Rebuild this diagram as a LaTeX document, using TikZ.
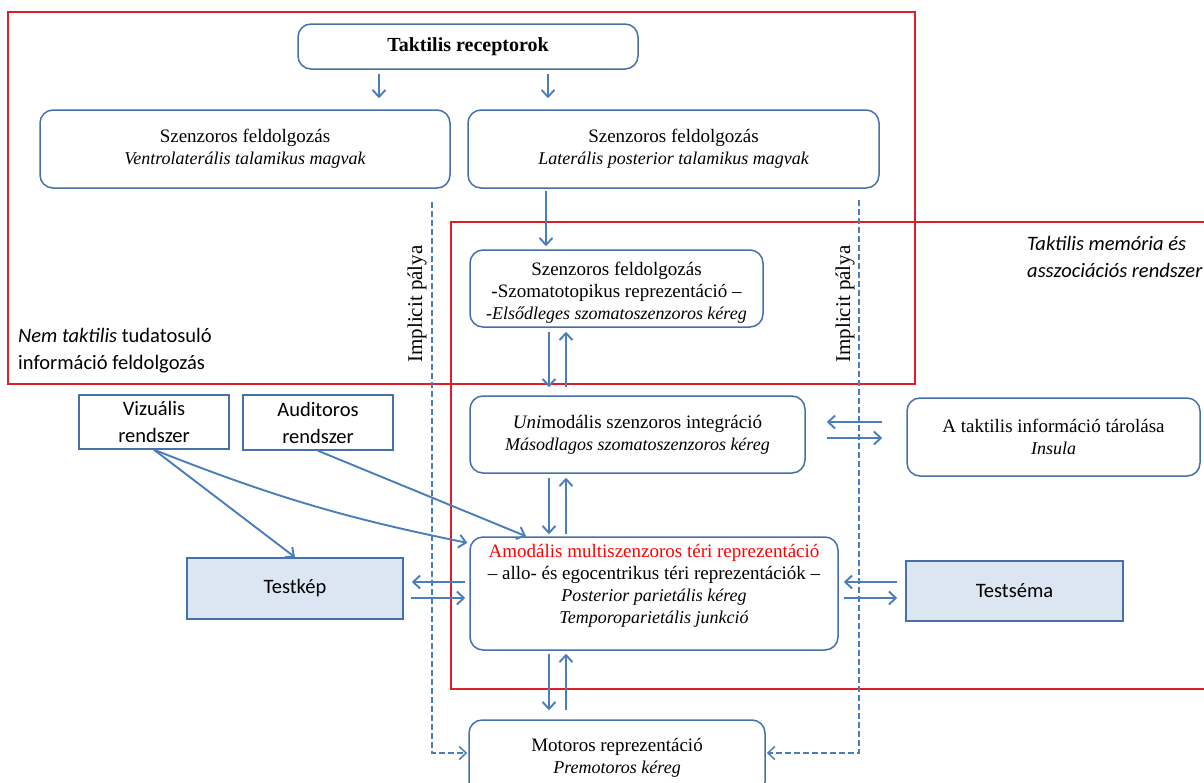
\documentclass[tikz,border=0pt]{standalone}
\usepackage{fontspec}
\setmainfont{Liberation Serif}
\newfontfamily\calib{Carlito}
\usetikzlibrary{arrows.meta,calc}
\definecolor{bbord}{RGB}{70,112,170}
\definecolor{barr}{RGB}{74,126,187}
\definecolor{fillb}{RGB}{220,230,242}
\definecolor{fred}{RGB}{222,30,40}
\newcommand\itl[1]{{\fontsize{18}{22}\selectfont\itshape #1}}
\begin{document}
\begin{tikzpicture}[x=1pt,y=-1pt,
 rbox/.style={draw=bbord, line width=1.5pt, rounded corners=13pt, align=center, inner sep=0pt, font=\fontsize{19}{22}\selectfont},
 sbox/.style={draw=bbord, line width=1.5pt, align=center, inner sep=0pt, font=\calib\fontsize{20.5}{27}\selectfont},
 arr/.style={draw=barr, line width=1.9pt, -{Straight Barb[length=7pt,width=13pt]}},
 dsh/.style={draw=barr, line width=1.5pt, dash pattern=on 6pt off 3pt, -{Straight Barb[length=7pt,width=13pt]}},
 frame/.style={draw=fred, line width=1.3pt}]
\useasboundingbox (0,0) rectangle (1204,782);

% frames
\draw[frame] (8,12) rectangle (915,384);
\draw[frame] (1210,222) -- (451,222) -- (451,689) -- (1210,689);

% boxes
\node[rbox, minimum width=340pt, minimum height=45pt, font=\bfseries\fontsize{20}{22}\selectfont] (rec) at (468,46.5) {Taktilis receptorok};
\node[rbox, minimum width=410pt, minimum height=78pt] (vl) at (245,149) {Szenzoros feldolgozás\\\itl{Ventrolaterális talamikus magvak}};
\node[rbox, minimum width=411pt, minimum height=78pt] (lp) at (673.5,149) {Szenzoros feldolgozás\\\itl{Laterális posterior talamikus magvak}};
\node[rbox, minimum width=293pt, minimum height=77pt] (s1) at (616.5,288.5) {\rule{0pt}{22pt}Szenzoros feldolgozás\\-Szomatotopikus reprezentáció –\\\itl{-Elsődleges szomatoszenzoros kéreg}};
\node[rbox, minimum width=335pt, minimum height=77pt] (uni) at (637.5,434.5) {\textit{Uni}modális szenzoros integráció\\\itl{Másodlagos szomatoszenzoros kéreg}};
\node[rbox, minimum width=368pt, minimum height=113pt] (amo) at (654,593.5) {\textcolor{red}{Amodális multiszenzoros téri reprezentáció}\\– allo- és egocentrikus téri reprezentációk –\\\itl{Posterior parietális kéreg}\\\itl{Temporoparietális junkció}\\[-3pt]\mbox{}};
\node[rbox, minimum width=296pt, minimum height=75pt] (mot) at (617,757.5) {Motoros reprezentáció\\\itl{Premotoros kéreg}};
\node[rbox, minimum width=293pt, minimum height=78pt] (ins) at (1053.5,437) {A taktilis információ tárolása\\\itl{Insula}};
\node[sbox, fill=fillb, minimum width=217pt, minimum height=60pt] (tsema) at (1014.5,591) {Testséma};
\node[sbox, fill=fillb, minimum width=216pt, minimum height=61pt] (tkep) at (295,588.5) {Testkép};
\node[sbox, minimum width=150pt, minimum height=54pt] (viz) at (154,422) {Vizuális\\rendszer};
\node[sbox, minimum width=150pt, minimum height=55pt] (aud) at (318,422.5) {Auditoros\\rendszer};

% free labels
\node[anchor=west, align=left, inner sep=0pt, font=\calib\fontsize{20.5}{27}\selectfont] (nt) at (18,351) {\textit{Nem taktilis} tudatosuló\\információ feldolgozás};
\node[anchor=west, align=left, inner sep=0pt, font=\calib\itshape\fontsize{20.5}{27}\selectfont] (tm) at (1027,256.5) {Taktilis memória és\\asszociációs rendszer};
\node[rotate=90, inner sep=0pt, font=\fontsize{21}{22}\selectfont] (imp1) at (417,304) {Implicit pálya};
\node[rotate=90, inner sep=0pt, font=\fontsize{21}{22}\selectfont] (imp2) at (845,304) {Implicit pálya};

% dashed implicit paths
\coordinate (dl) at (432,202);
\coordinate (dr) at (859,200);
\draw[dsh, shorten >=1pt] (dl) |- ([yshift=4.5pt]mot.west);
\draw[dsh, shorten >=1pt] (dr) |- ([yshift=4.5pt]mot.east);

% arrows
\draw[arr, shorten <=4pt, shorten >=11pt] ([xshift=-89pt]rec.south) -- ([xshift=-89pt]rec.south |- vl.north);
\draw[arr, shorten <=4pt, shorten >=11pt] ([xshift=80pt]rec.south) -- ([xshift=80pt]rec.south |- lp.north);
\draw[arr, shorten <=2pt, shorten >=3pt] ([xshift=-127.5pt]lp.south) -- ([xshift=-127.5pt]lp.south |- s1.north);

\draw[arr, shorten <=4pt, shorten >=8pt] ([xshift=-67.5pt]s1.south) -- ([xshift=-67.5pt]s1.south |- uni.north);
\draw[arr, shorten <=8pt, shorten >=4pt] ([xshift=-50.5pt]s1.south |- uni.north) -- ([xshift=-50.5pt]s1.south);

\draw[arr, shorten <=4pt, shorten >=2pt] ([xshift=-88.5pt]uni.south) -- ([xshift=-88.5pt]uni.south |- amo.north);
\draw[arr, shorten <=2pt, shorten >=4pt] ([xshift=-71.5pt]uni.south |- amo.north) -- ([xshift=-71.5pt]uni.south);

\draw[arr, shorten <=3pt, shorten >=9pt] ([xshift=-105pt]amo.south) -- ([xshift=-105pt]amo.south |- mot.north);
\draw[arr, shorten <=9pt, shorten >=3pt] ([xshift=-88pt]amo.south |- mot.north) -- ([xshift=-88pt]amo.south);

\draw[arr, shorten <=24pt, shorten >=21pt] ([yshift=12.5pt]uni.east -| ins.west) -- ([yshift=12.5pt]uni.east);
\draw[arr, shorten <=21pt, shorten >=24pt] ([yshift=-3.5pt]uni.east) -- ([yshift=-3.5pt]uni.east -| ins.west);

\draw[arr, shorten <=8pt, shorten >=5pt] ([yshift=11.5pt]amo.east -| tsema.west) -- ([yshift=11.5pt]amo.east);
\draw[arr, shorten <=5pt, shorten >=8pt] ([yshift=-4.5pt]amo.east) -- ([yshift=-4.5pt]amo.east -| tsema.west);

\draw[arr, shorten <=4pt, shorten >=8pt] ([yshift=11.5pt]amo.west) -- ([yshift=11.5pt]amo.west -| tkep.east);
\draw[arr, shorten <=7pt, shorten >=4pt] ([yshift=-4.5pt]amo.west -| tkep.east) -- ([yshift=-4.5pt]amo.west);

\draw[arr] (viz.south) -- (tkep.north);
\draw[arr, shorten >=2pt] (viz.south) to[bend right=5] ([yshift=-7pt]amo.north west);
\draw[arr] (aud.south) -- ([xshift=-128pt]amo.north);
\end{tikzpicture}
\end{document}
